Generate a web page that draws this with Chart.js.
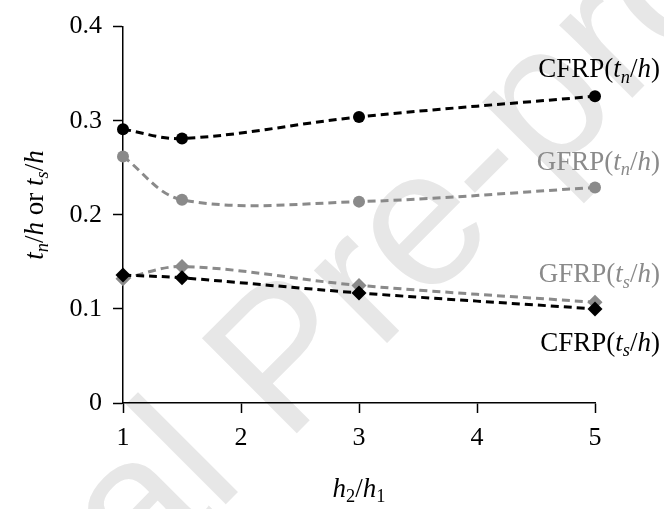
<!DOCTYPE html>
<html>
<head>
<meta charset="utf-8">
<script src="https://cdn.jsdelivr.net/npm/chart.js@4"></script>
<style>
  html, body { margin: 0; padding: 0; background: #fff; }
  #wrap { width: 664px; height: 509px; }
</style>
</head>
<body>
<div id="wrap"><canvas id="chart"></canvas></div>
<script>
const SERIF = '"Liberation Serif", "Times New Roman", serif';

// x values (h2/h1)
const ratios = [1, 1.5, 3, 5];

const cfrpTn = [0.291, 0.281, 0.304, 0.326];
const gfrpTn = [0.262, 0.216, 0.214, 0.229];
const gfrpTs = [0.132, 0.145, 0.125, 0.107];
const cfrpTs = [0.136, 0.133, 0.117, 0.100];

const xTicks = [1, 2, 3, 4, 5];
const yTicks = [0, 0.1, 0.2, 0.3, 0.4];

const BLACK = '#000000';
const GREY = '#8a8a8a';

const toPoints = vals => vals.map((v, i) => ({ x: ratios[i], y: v }));

// label pieces: [text, italic, subscript]
const lbl = (name, sub) => [[name + '(', false, false], ['t', true, false], [sub, true, true], ['/', false, false], ['h', true, false], [')', false, false]];

function mkSet(data, color, shape, label, dy) {
    return {
        data: toPoints(data),
        borderColor: color,
        backgroundColor: color,
        borderWidth: 3,
        borderDash: [8, 5],
        tension: 0.35,
        clip: false,
        pointStyle: shape,
        pointRadius: shape === 'circle' ? 6 : 7.5,
        pointBorderWidth: 0,
        tag: { parts: label, color: color, dy: dy }
    };
}

function drawRich(ctx, parts, x, y, size, align) {
    let w = 0;
    const fonts = parts.map(p => {
        const s = p[2] ? size * 0.68 : size;
        const f = (p[1] ? 'italic ' : '') + s + 'px ' + SERIF;
        ctx.font = f;
        const pw = ctx.measureText(p[0]).width;
        w += pw;
        return { f, pw };
    });
    let cx = align === 'right' ? x - w : (align === 'center' ? x - w / 2 : x);
    ctx.textAlign = 'left';
    ctx.textBaseline = 'alphabetic';
    parts.forEach((p, i) => {
        ctx.font = fonts[i].f;
        ctx.fillText(p[0], cx, y + (p[2] ? size * 0.2 : 0));
        cx += fonts[i].pw;
    });
}

const decor = {
    id: 'decor',
    beforeDraw(chart) {
        // faint "Journal Pre-proof" stamp behind the plot
        const ctx = chart.ctx;
        ctx.save();
        ctx.fillStyle = '#e7e7e7';
        ctx.translate(-205, 935);
        ctx.rotate(-Math.PI / 4);
        ctx.font = '195px "Liberation Sans", Arial, sans-serif';
        ctx.textAlign = 'left';
        ctx.textBaseline = 'alphabetic';
        ctx.fillText('Journal Pre-proof', 0, 0);
        ctx.restore();
    },
    afterDraw(chart) {
        const ctx = chart.ctx;
        const xs = chart.scales.x;
        ctx.save();
        chart.data.datasets.forEach((ds, i) => {
            const last = chart.getDatasetMeta(i).data[ds.data.length - 1];
            ctx.fillStyle = ds.tag.color;
            drawRich(ctx, ds.tag.parts, last.x + 65, last.y + ds.tag.dy, 27, 'right');
        });
        ctx.fillStyle = BLACK;
        // x title
        drawRich(ctx, [['h', true, false], ['2', false, true], ['/', false, false], ['h', true, false], ['1', false, true]],
            (xs.left + xs.right) / 2, 497, 27, 'center');
        // y title
        ctx.translate(43, 205);
        ctx.rotate(-Math.PI / 2);
        drawRich(ctx, [['t', true, false], ['n', true, true], ['/', false, false], ['h', true, false], [' or ', false, false],
            ['t', true, false], ['s', true, true], ['/', false, false], ['h', true, false]], 0, 0, 27, 'center');
        ctx.restore();
    }
};

new Chart(document.getElementById('chart'), {
    type: 'line',
    data: {
        datasets: [
            mkSet(cfrpTs, BLACK, 'rectRot', lbl('CFRP', 's'), 42),
            mkSet(cfrpTn, BLACK, 'circle', lbl('CFRP', 'n'), -19),
            mkSet(gfrpTs, GREY, 'rectRot', lbl('GFRP', 's'), -20),
            mkSet(gfrpTn, GREY, 'circle', lbl('GFRP', 'n'), -18)
        ]
    },
    options: {
        responsive: true,
        maintainAspectRatio: false,
        animation: false,
        layout: { padding: { top: 22, right: 69, left: 0, bottom: 0 } },
        plugins: {
            legend: { display: false },
            tooltip: { enabled: false }
        },
        scales: {
            x: {
                type: 'linear',
                min: 1,
                max: 5,
                afterBuildTicks: s => { s.ticks = xTicks.map(v => ({ value: v })); },
                afterFit: s => { s.height = 106; },
                grid: { drawOnChartArea: false, tickLength: 10, tickColor: BLACK, tickWidth: 1.5 },
                border: { color: BLACK, width: 1.5 },
                ticks: { color: BLACK, padding: 10, font: { family: SERIF, size: 26 } }
            },
            y: {
                min: 0,
                max: 0.4,
                afterBuildTicks: s => { s.ticks = yTicks.map(v => ({ value: v })); },
                afterFit: s => { s.width = 123; },
                grid: { drawOnChartArea: false, tickLength: 10, tickColor: BLACK, tickWidth: 1.5 },
                border: { color: BLACK, width: 1.5 },
                ticks: { color: BLACK, padding: 11, font: { family: SERIF, size: 26 } }
            }
        }
    },
    plugins: [decor]
});
</script>
</body>
</html>
